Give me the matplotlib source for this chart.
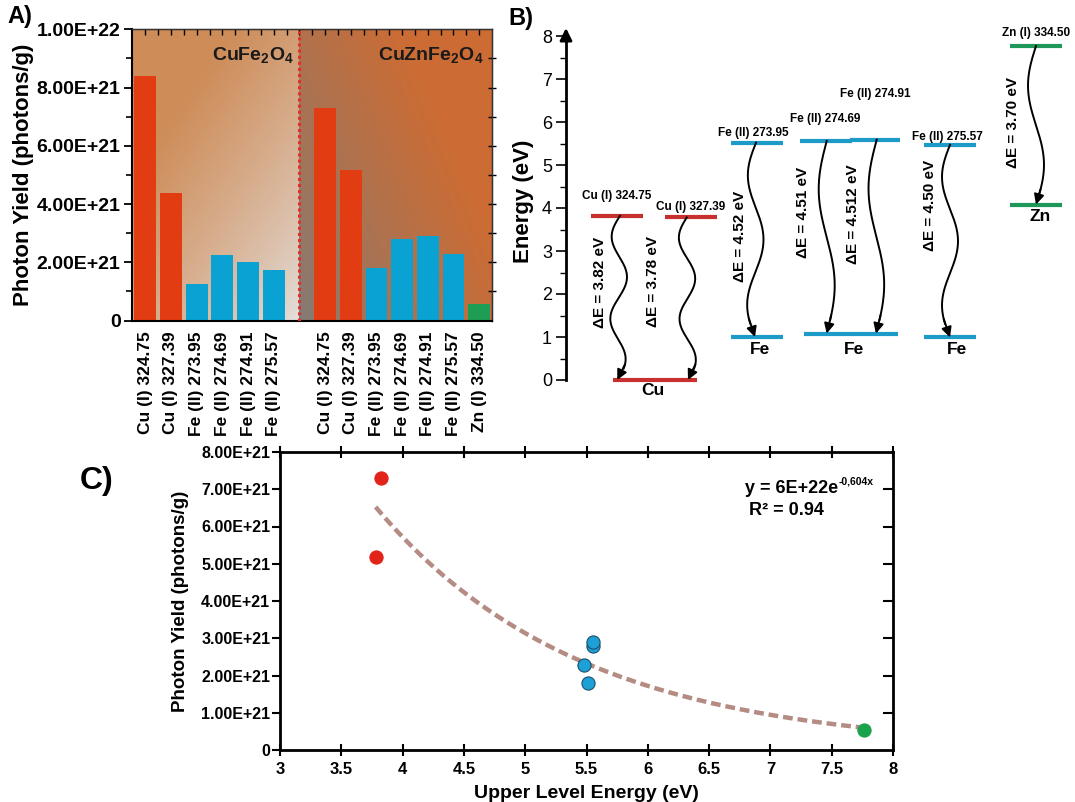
import numpy as np
import matplotlib
matplotlib.use("Agg")
import matplotlib.pyplot as plt
from matplotlib.ticker import FuncFormatter, MultipleLocator

plt.rcParams['font.family'] = ['Liberation Sans', 'DejaVu Sans']
plt.rcParams['mathtext.fontset'] = 'custom'
plt.rcParams['mathtext.rm'] = 'Liberation Sans'
plt.rcParams['mathtext.bf'] = 'Liberation Sans:bold'
plt.rcParams['mathtext.it'] = 'Liberation Sans:italic'

# ---------------- data ----------------
lines_cufe = ['Cu (I) 324.75', 'Cu (I) 327.39', 'Fe (II) 273.95', 'Fe (II) 274.69',
              'Fe (II) 274.91', 'Fe (II) 275.57']
yield_cufe = [8.41e21, 4.38e21, 1.24e21, 2.24e21, 2.00e21, 1.75e21]
lines_cuznfe = ['Cu (I) 324.75', 'Cu (I) 327.39', 'Fe (II) 273.95', 'Fe (II) 274.69',
                'Fe (II) 274.91', 'Fe (II) 275.57', 'Zn (I) 334.50']
yield_cuznfe = [7.31e21, 5.17e21, 1.79e21, 2.79e21, 2.90e21, 2.28e21, 0.55e21]
element_cufe = ['Cu', 'Cu', 'Fe', 'Fe', 'Fe', 'Fe']
element_cuznfe = ['Cu', 'Cu', 'Fe', 'Fe', 'Fe', 'Fe', 'Zn']

# energy diagram (panel B)
level_names = ['Cu (I) 324.75', 'Cu (I) 327.39', 'Fe (II) 273.95', 'Fe (II) 274.69',
               'Fe (II) 274.91', 'Fe (II) 275.57', 'Zn (I) 334.50']
level_upper = [3.82, 3.78, 5.52, 5.56, 5.59, 5.47, 7.77]
level_lower = [0.0, 0.0, 1.00, 1.08, 1.08, 0.99, 4.08]
delta_e_text = ['3.82', '3.78', '4.52', '4.51', '4.512', '4.50', '3.70']
level_element = ['Cu', 'Cu', 'Fe', 'Fe', 'Fe', 'Fe', 'Zn']

# panel C
upper_energy = [3.82, 3.78, 5.51, 5.55, 5.55, 5.48, 7.76]
yield_c = yield_cuznfe
eq_text = 'y = 6E+22e'
eq_sup = '-0,604x'
r2_text = 'R² = 0.94'

# ---------------- styles / layout ----------------
W, H = 1075, 802
fig = plt.figure(figsize=(W / 100, H / 100), dpi=100)

def box(x0, y0, x1, y1):
    return [x0 / W, 1 - y1 / H, (x1 - x0) / W, (y1 - y0) / H]

col = {'Cu': '#E23C12', 'Fe': '#0AA2D2', 'Zn': '#1E9E55'}
col_b = {'Cu': '#C8302E', 'Fe': '#1B9CC8', 'Zn': '#1E9858'}
sci = FuncFormatter(lambda v, p: '0' if abs(v) < 1 else f'{v:.2E}')

# ================= Panel A =================
axa = fig.add_axes(box(131.7, 29.3, 492, 320.5))
n1 = len(yield_cufe)
pos1 = np.arange(n1)
pos2 = np.arange(len(yield_cuznfe)) + n1 + 1
divider = n1
xl, xr = -0.53, pos2[-1] + 0.5
axa.set_xlim(xl, xr)
axa.set_ylim(0, 1e22)

# background gradients
ny, nx = 120, 120
yy = np.linspace(0, 1, ny)[:, None]
xx = np.linspace(0, 1, nx)[None, :]
t = np.clip(0.62 * (1 - xx) + 0.75 * yy, 0, 1) ** 0.8
c_light = np.array([228, 224, 222]) / 255
c_or1 = np.array([206, 140, 88]) / 255
img1 = c_light[None, None, :] * (1 - t[..., None]) + c_or1[None, None, :] * t[..., None]
axa.imshow(img1, extent=(xl, divider, 0, 1e22), origin='lower', aspect='auto', zorder=0)
t2 = np.clip(0.85 * xx + 0.55 * yy, 0, 1) ** 0.75
c_gray = np.array([128, 124, 121]) / 255
c_or2 = np.array([204, 108, 52]) / 255
img2 = c_gray[None, None, :] * (1 - t2[..., None]) + c_or2[None, None, :] * t2[..., None]
axa.imshow(img2, extent=(divider, xr, 0, 1e22), origin='lower', aspect='auto', zorder=0)

axa.bar(pos1, yield_cufe, width=0.85, color=[col[e] for e in element_cufe], zorder=2)
axa.bar(pos2, yield_cuznfe, width=0.85, color=[col[e] for e in element_cuznfe], zorder=2)
axa.axvline(divider, color='#E0302E', lw=2.2, ls=(0, (1, 1)), zorder=3)

axa.set_xticks(list(pos1) + list(pos2))
axa.set_xticklabels(lines_cufe + lines_cuznfe, rotation=90, fontsize=12.5, fontweight='bold')
axa.tick_params(axis='x', length=0, pad=8)
axa.set_yticks(np.arange(0, 1.01e22, 2e21))
axa.yaxis.set_major_formatter(sci)
axa.yaxis.set_minor_locator(MultipleLocator(1e21))
axa.tick_params(axis='y', labelsize=14, width=1.3, length=6, pad=2)
for lab in axa.get_yticklabels():
    lab.set_fontweight('bold')
axa.tick_params(axis='y', which='minor', length=4, width=1.2)
axa.set_ylabel('Photon Yield (photons/g)', fontsize=16, fontweight='bold')
axa.yaxis.set_label_coords(-0.272, 0.5)
for s in ['left', 'bottom']:
    axa.spines[s].set_linewidth(1.5)
for s in ['top', 'right']:
    axa.spines[s].set_linewidth(1.0)
    axa.spines[s].set_color('#333333')
sec_top = axa.secondary_xaxis('top')
sec_top.set_xticks(np.arange(0, xr, 0.5))
sec_top.tick_params(direction='in', length=4, labeltop=False, width=1)
sec_top.set_xticklabels([])
sec_r = axa.secondary_yaxis('right')
sec_r.set_yticks(np.arange(1e21, 1e22, 1e21))
sec_r.tick_params(direction='inout', length=6, width=1, labelright=False)
sec_r.set_yticklabels([])

axa.text(5.78, 9.12e21, r'$\mathbf{CuFe_2O_4}$', fontsize=14, ha='right', va='center', zorder=4,
         color='#1a1a1a')
axa.text(13.17, 9.12e21, r'$\mathbf{CuZnFe_2O_4}$', fontsize=14, ha='right', va='center', zorder=4,
         color='#1a1a1a')

fig.text(7 / W, 1 - 17 / H, 'A)', fontsize=17, fontweight='bold', va='center', ha='left')
fig.text(508 / W, 1 - 18 / H, 'B)', fontsize=17, fontweight='bold', va='center', ha='left')
fig.text(80 / W, 1 - 481 / H, 'C)', fontsize=23, fontweight='bold', va='center', ha='left')

# ================= Panel B =================
axb = fig.add_axes(box(566, 36, 1075, 380))
axb.set_xlim(0, 509)
axb.set_ylim(0, 8)
for s in ['top', 'right', 'bottom']:
    axb.spines[s].set_visible(False)
axb.spines['left'].set_linewidth(2)
axb.set_xticks([])
axb.set_yticks(range(9))
axb.yaxis.set_minor_locator(MultipleLocator(0.5))
axb.tick_params(axis='y', labelsize=13, length=7, width=1.2, pad=3)
axb.tick_params(axis='y', which='minor', length=4, width=1.0)
axb.set_ylabel('Energy (eV)', fontsize=16, fontweight='bold')
axb.yaxis.set_label_coords(-0.062, 0.52)
axb.annotate('', xy=(0, 8.25), xytext=(0, 7.9), xycoords='data',
             arrowprops=dict(arrowstyle='-|>', color='black', lw=2, mutation_scale=18),
             annotation_clip=False)

# layout of the diagram (pixel-like columns measured from the axis)
upper_x = [(24.7, 76.7), (99, 150.7), (164.7, 216.7), (234, 285.7), (284, 334), (358, 409.7), (444, 496.3)]
lower_x = [(46.7, 130.7), (46.7, 130.7), (164.7, 216.7), (238, 332), (238, 332), (358, 409.7), (444, 496.3)]
arrow_x = [(54, 51.3), (120.7, 122), (190, 189), (260.7, 260.7), (310.7, 310), (384, 384), (470, 470)]
arrow_cycles = [2, 2, 1.5, 1, 1, 1.5, 1]
label_xy = [(51, 4.28), (125, 4.02), (187, 5.74), (259.5, 6.06), (309.5, 6.65), (381, 5.66), (470.5, 8.08)]
de_xy = [(34, 2.28), (86.7, 2.28), (174, 3.33), (237.3, 3.90), (287, 3.86), (364, 4.07), (447, 6.0)]
ground_xy = [(87, -0.25), (87, -0.25), (194, 0.70), (288, 0.70), (288, 0.70), (390.7, 0.70), (474, 3.80)]

drawn_ground = set()
for i, name in enumerate(level_names):
    el = level_element[i]
    c = col_b[el]
    axb.plot(upper_x[i], [level_upper[i]] * 2, color=c, lw=3, solid_capstyle='butt', clip_on=False)
    g = (lower_x[i], level_lower[i])
    if g not in drawn_ground:
        axb.plot(lower_x[i], [level_lower[i]] * 2, color=c, lw=3, solid_capstyle='butt', clip_on=False)
        axb.text(ground_xy[i][0], ground_xy[i][1], el, fontsize=12.5, fontweight='bold',
                 ha='center', va='center')
        drawn_ground.add(g)
    axb.text(label_xy[i][0], label_xy[i][1], name, fontsize=8.5, fontweight='bold',
             ha='center', va='center')
    axb.text(de_xy[i][0], de_xy[i][1], f'ΔE = {delta_e_text[i]} eV', fontsize=11, fontweight='bold',
             rotation=90, ha='center', va='center')
    x0, x1 = arrow_x[i]
    e0, e1 = level_upper[i], level_lower[i]
    tt = np.linspace(0, 1, 200)
    xs = x0 + (x1 - x0) * tt - 8 * np.sin(2 * np.pi * arrow_cycles[i] * tt)
    ys = e0 + (e1 - e0) * tt
    k = 186
    axb.plot(xs[:k], ys[:k], color='black', lw=1.4, clip_on=False)
    axb.annotate('', xy=(xs[-1], ys[-1]), xytext=(xs[k - 6], ys[k - 6]),
                 arrowprops=dict(arrowstyle='-|>', color='black', lw=1.4, mutation_scale=15,
                                 shrinkA=0, shrinkB=0),
                 annotation_clip=False)

# ================= Panel C =================
axc = fig.add_axes(box(280, 452, 893, 750))
axc.set_xlim(3, 8)
axc.set_ylim(0, 8e21)
pt_col = {'Cu': '#E2231A', 'Fe': '#1CA0D6', 'Zn': '#1BA24C'}
pt_edge = {'Cu': '#E2231A', 'Fe': '#1D4E6E', 'Zn': '#1BA24C'}
xe = np.array(upper_energy)
ye = np.array(yield_c)
# exponential trendline (least squares on log values, as a spreadsheet does)
b, a = np.polyfit(xe, np.log(ye), 1)
xf = np.linspace(xe.min(), xe.max(), 200)
axc.plot(xf, np.exp(a + b * xf), color='#B48C83', lw=3.2, ls=(0, (2.2, 1.1)), zorder=2)
for xv, yv, el in zip(upper_energy, yield_c, element_cuznfe):
    axc.scatter(xv, yv, s=90, color=pt_col[el], edgecolor=pt_edge[el], linewidth=0.8, zorder=3)

axc.set_xticks(np.arange(3, 8.01, 0.5))
axc.xaxis.set_major_formatter(FuncFormatter(lambda v, p: f'{v:g}'))
axc.set_yticks(np.arange(0, 8.01e21, 1e21))
axc.yaxis.set_major_formatter(sci)
axc.tick_params(axis='x', direction='inout', length=9, width=1.5, labelsize=12, pad=4)
axc.tick_params(axis='y', direction='out', length=6, width=1.5, labelsize=11.5, pad=1)
for lab in axc.get_xticklabels() + axc.get_yticklabels():
    lab.set_fontweight('bold')
for s in axc.spines.values():
    s.set_linewidth(2)
sct = axc.secondary_xaxis('top')
sct.set_xticks(np.arange(3, 8.01, 0.5))
sct.tick_params(direction='inout', length=9, width=1.5)
sct.set_xticklabels([])
scr = axc.secondary_yaxis('right')
scr.set_yticks(np.arange(1e21, 8e21, 1e21))
scr.tick_params(direction='in', length=7, width=1.5)
scr.set_yticklabels([])
axc.set_xlabel('Upper Level Energy (eV)', fontsize=14, fontweight='bold', labelpad=6)
axc.set_ylabel('Photon Yield (photons/g)', fontsize=13.5, fontweight='bold', labelpad=9)

axc.text(7.553, 7.03e21, eq_text, fontsize=13, fontweight='bold', ha='right', va='center')
axc.text(7.556, 7.22e21, eq_sup, fontsize=7.5, fontweight='bold', ha='left', va='center')
axc.text(7.13, 6.44e21, r2_text, fontsize=13, fontweight='bold', ha='center', va='center')

fig.savefig('out.png', dpi=100)
